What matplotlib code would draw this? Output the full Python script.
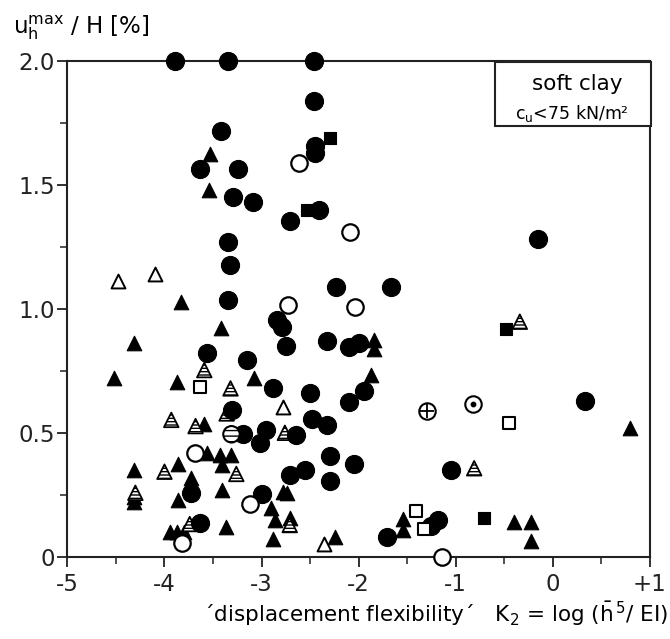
import matplotlib
matplotlib.use("Agg")
import matplotlib.pyplot as plt
from matplotlib.ticker import MultipleLocator, FixedLocator
from matplotlib.patches import Rectangle

plt.rcParams['font.family'] = ['DejaVu Sans']
plt.rcParams['mathtext.fontset'] = 'dejavusans'

# ---- data (K2, u_h_max/H %) ----
fc_x = [-3.89, -3.35, -2.46, -3.42, -3.63, -3.24, -3.29, -3.09, -3.35, -3.33, -3.35,
        -2.46, -2.45, -2.45, -2.41, -2.71, -2.23, -1.665, -0.15,
        -3.56, -3.15, -3.30, -3.19, -3.02, -3.73, -3.63,
        -2.84, -2.79, -2.75, -2.33, -2.10, -2.00,
        -2.88, -2.50, -2.10, -1.94, -2.48, -2.33, -2.95, -2.65,
        -2.29, -2.05, -2.55, -2.71, -2.30, -3.00,
        -1.71, -1.25, -1.18, -1.05, 0.33]
fc_y = [2.0, 2.0, 2.0, 1.72, 1.565, 1.567, 1.454, 1.434, 1.27, 1.18, 1.037,
        1.84, 1.66, 1.63, 1.40, 1.357, 1.091, 1.091, 1.283,
        0.822, 0.796, 0.594, 0.496, 0.46, 0.26, 0.14,
        0.957, 0.93, 0.853, 0.873, 0.847, 0.865,
        0.681, 0.664, 0.625, 0.67, 0.556, 0.533, 0.513, 0.493,
        0.408, 0.376, 0.352, 0.332, 0.308, 0.255,
        0.08, 0.125, 0.15, 0.352, 0.631]

ft_x = [-3.53, -3.54, -3.83, -3.42, -4.31, -4.52, -3.87, -3.08,
        -3.59, -3.56, -3.43, -3.32, -3.41, -4.31, -3.86, -3.73, -3.73, -3.41,
        -4.31, -4.31, -3.86, -3.37, -3.94, -3.87, -3.80,
        -1.84, -1.84, -1.87, -2.74, -2.78, -2.90, -2.86, -2.71, -2.88, -2.24,
        -1.54, -1.54, 0.80, -0.40, -0.22, -0.22]
ft_y = [1.625, 1.48, 1.03, 0.923, 0.863, 0.722, 0.708, 0.722,
        0.537, 0.422, 0.412, 0.412, 0.372, 0.352, 0.376, 0.318, 0.29, 0.271,
        0.244, 0.222, 0.231, 0.123, 0.10, 0.10, 0.10,
        0.876, 0.839, 0.735, 0.26, 0.265, 0.197, 0.15, 0.157, 0.073, 0.083,
        0.153, 0.11, 0.52, 0.144, 0.144, 0.067]

ht_x = [-3.59, -3.32, -3.36, -3.93, -3.68, -4.00, -3.26, -4.30, -3.74, -2.76, -2.71, -0.34, -0.81]
ht_y = [0.755, 0.681, 0.58, 0.554, 0.529, 0.345, 0.336, 0.26, 0.134, 0.502, 0.13, 0.95, 0.359]

ot_x = [-4.48, -4.10, -2.78, -2.36]
ot_y = [1.114, 1.142, 0.605, 0.052]

oc_x = [-2.61, -2.09, -2.73, -2.04, -3.69, -3.12, -3.82, -1.14]
oc_y = [1.589, 1.313, 1.017, 1.008, 0.419, 0.215, 0.056, 0.0]

fs_x = [-2.29, -2.53, -0.48, -0.71]
fs_y = [1.69, 1.40, 0.919, 0.157]

os_x = [-3.63, -1.41, -1.33, -0.45]
os_y = [0.688, 0.188, 0.113, 0.543]

cl_x = [-3.31]; cl_y = [0.496]
cx_x = [-1.30]; cx_y = [0.59]
cd_x = [-0.82]; cd_y = [0.618]

xticks = [-5, -4, -3, -2, -1, 0, 1]
xticklabels = ['-5', '-4', '-3', '-2', '-1', '0', '+1']
yticks = [0, 0.5, 1.0, 1.5, 2.0]
yticklabels = ['0', '0.5', '1.0', '1.5', '2.0']

# ---- figure ----
fig = plt.figure(figsize=(6.7, 6.39), dpi=100)
ax = fig.add_axes([0.1006, 0.1279, 0.8694, 0.7761])
ax.set_xlim(-5, 1)
ax.set_ylim(0, 2.0)

k = 'black'
common = dict(clip_on=False, zorder=3)
ax.scatter(ft_x, ft_y, marker='^', s=110, c=k, edgecolors=k, linewidths=0.8, **common)
ax.scatter(ht_x, ht_y, marker='^', s=110, facecolors='white', edgecolors=k, linewidths=1.3,
           hatch='-----', **common)
ax.scatter(ot_x, ot_y, marker='^', s=100, facecolors='white', edgecolors=k, linewidths=1.4, **common)
ax.scatter(fc_x, fc_y, marker='o', s=170, c=k, edgecolors=k, linewidths=0.8, **common)
ax.scatter(oc_x, oc_y, marker='o', s=140, facecolors='white', edgecolors=k, linewidths=1.6, **common)
ax.scatter(fs_x, fs_y, marker='s', s=80, c=k, edgecolors=k, linewidths=0.8, **common)
ax.scatter(os_x, os_y, marker='s', s=75, facecolors='white', edgecolors=k, linewidths=1.5, **common)
ax.scatter(cl_x, cl_y, marker='o', s=140, facecolors='white', edgecolors=k, linewidths=1.5,
           hatch='---', **common)
ax.scatter(cx_x, cx_y, marker='o', s=140, facecolors='white', edgecolors=k, linewidths=1.5, **common)
ax.scatter(cx_x, cx_y, marker='+', s=110, c=k, linewidths=1.3, clip_on=False, zorder=4)
ax.scatter(cd_x, cd_y, marker='o', s=140, facecolors='white', edgecolors=k, linewidths=1.5, **common)
ax.scatter(cd_x, cd_y, marker='o', s=10, c=k, clip_on=False, zorder=4)

for sp in ax.spines.values():
    sp.set_linewidth(1.5)
    sp.set_color('#222222')

ax.set_xticks(xticks)
ax.set_xticklabels(xticklabels)
ax.xaxis.set_minor_locator(MultipleLocator(0.5))
ax.set_yticks(yticks)
ax.set_yticklabels(yticklabels)
ax.yaxis.set_minor_locator(MultipleLocator(0.25))
ax.tick_params(axis='both', which='major', direction='out', length=7, width=1.3,
               labelsize=16.5, pad=2, colors='#222222')
ax.tick_params(axis='both', which='minor', direction='out', length=5, width=1.1, colors='#222222')
ax.tick_params(axis='x', which='major', pad=4)

# legend-like box
box = Rectangle((495/670, 1 - 126/639), (651 - 495)/670, (126 - 62)/639,
                transform=fig.transFigure, facecolor='white', edgecolor='#222222',
                linewidth=1.5, zorder=5)
fig.patches.append(box)
fig.text(577/670, 1 - 84/639, 'soft clay', ha='center', va='center', fontsize=15.5, zorder=6)
fig.text(572/670, 1 - 113/639, r'c$_\mathrm{u}$<75 kN/m²', ha='center', va='center',
         fontsize=12.5, zorder=6)

# axis labels
fig.text(13/670, 1 - 33/639, r'u$_\mathrm{h}^\mathrm{max}$ / H [%]', ha='left', va='baseline',
         fontsize=16.5)
fig.text(668/670, 1 - 622/639,
         r'´displacement flexibility´   K$_2$ = log ($\bar{\mathrm{h}}^{\,5}$/ EI)',
         ha='right', va='baseline', fontsize=15.5)

fig.savefig('out.png', dpi=100)
